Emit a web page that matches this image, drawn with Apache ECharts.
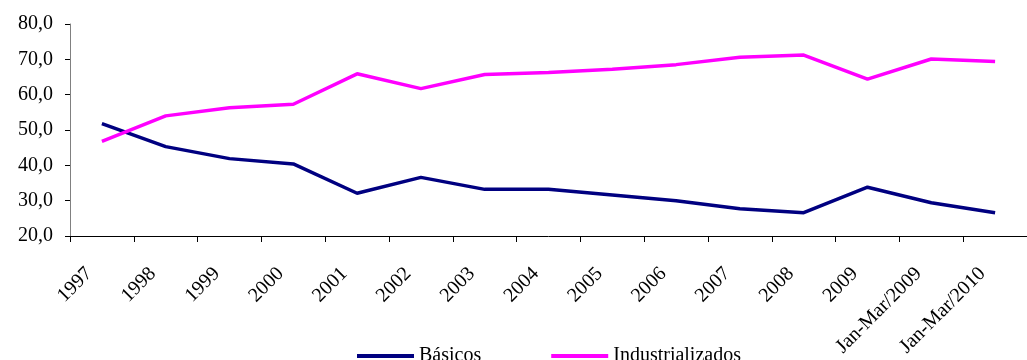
<!DOCTYPE html>
<html>
<head>
<meta charset="utf-8">
<script src="https://cdn.jsdelivr.net/npm/echarts@6/dist/echarts.min.js"></script>
<style>
html,body{margin:0;padding:0;background:#fff;}
#chart{width:1027px;height:360px;}
</style>
</head>
<body>
<div id="chart"></div>
<script>
var categories = ['1997','1998','1999','2000','2001','2002','2003','2004','2005','2006','2007','2008','2009','Jan-Mar/2009','Jan-Mar/2010'];
var basicos = [51.8, 45.3, 41.9, 40.4, 32.1, 36.6, 33.2, 33.2, 31.6, 30.0, 27.7, 26.6, 33.8, 29.4, 26.6];
var industrializados = [46.8, 54.0, 56.3, 57.3, 65.9, 61.7, 65.7, 66.3, 67.2, 68.5, 70.6, 71.2, 64.4, 70.1, 69.4];
var yTicks = {min: 20, max: 80, interval: 10};

var font = 'Liberation Serif';
var chart = echarts.init(document.getElementById('chart'));

chart.setOption({
    animation: false,
    textStyle: {fontFamily: font},
    grid: {left: 70, top: 24, bottom: 124, right: -12, containLabel: false},
    legend: {
        left: 352,
        top: 341,
        icon: 'rect',
        itemWidth: 57,
        itemHeight: 4,
        itemGap: 70,
        textStyle: {fontFamily: font, fontSize: 20, color: '#000'},
        data: ['Básicos', 'Industrializados']
    },
    xAxis: {
        type: 'category',
        data: categories,
        boundaryGap: true,
        axisLine: {lineStyle: {color: '#000', width: 1}},
        axisTick: {show: true, length: 6, lineStyle: {color: '#000'}},
        axisLabel: {
            rotate: 45,
            interval: 0,
            margin: 22,
            padding: [0, 18, 0, 0],
            fontFamily: font,
            fontSize: 20,
            color: '#000'
        }
    },
    yAxis: {
        type: 'value',
        min: yTicks.min,
        max: yTicks.max,
        interval: yTicks.interval,
        axisLine: {show: true, lineStyle: {color: '#808080', width: 1}},
        axisTick: {show: true, inside: false, length: 5, lineStyle: {color: '#000'}},
        splitLine: {show: false},
        axisLabel: {
            margin: 17,
            fontFamily: font,
            fontSize: 20,
            color: '#000',
            formatter: function (v) { return v.toFixed(1).replace('.', ','); }
        }
    },
    series: [
        {
            name: 'Básicos',
            type: 'line',
            data: basicos,
            showSymbol: false,
            symbol: 'none',
            color: '#000080',
            lineStyle: {color: '#000080', width: 3.5}
        },
        {
            name: 'Industrializados',
            type: 'line',
            data: industrializados,
            showSymbol: false,
            symbol: 'none',
            color: '#FF00FF',
            lineStyle: {color: '#FF00FF', width: 3.5}
        }
    ]
});
</script>
</body>
</html>
